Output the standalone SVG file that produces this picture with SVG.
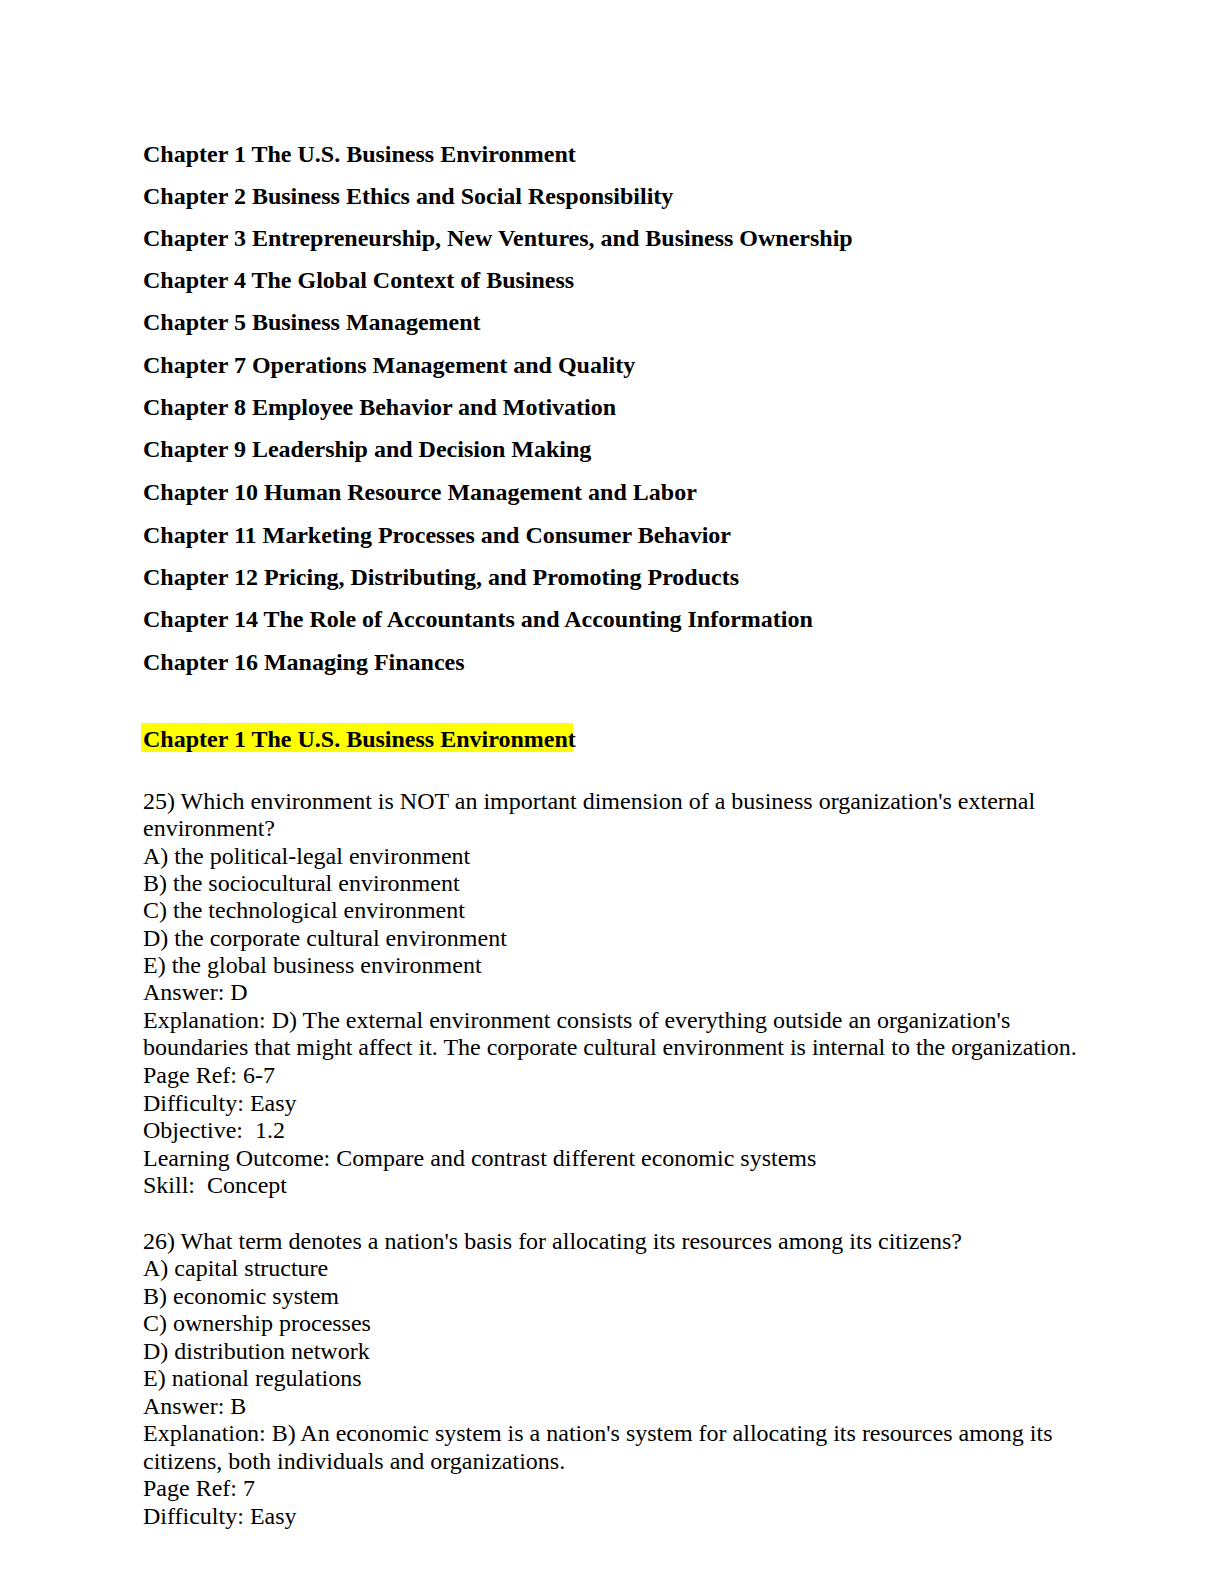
<svg xmlns="http://www.w3.org/2000/svg" width="1224" height="1584" viewBox="0 0 1224 1584">
<style>
text{font-family:"Liberation Serif","Times New Roman",serif;font-size:24px;fill:#000}
.b{font-weight:bold}
</style>
<rect width="1224" height="1584" fill="#fff"/>
<g id="toc" transform="translate(0,2)">
<text class="b" x="143" y="160">Chapter 1 The U.S. Business Environment</text>
<text class="b" x="143" y="202">Chapter 2 Business Ethics and Social Responsibility</text>
<text class="b" x="143" y="244">Chapter 3 Entrepreneurship, New Ventures, and Business Ownership</text>
<text class="b" x="143" y="286">Chapter 4 The Global Context of Business</text>
<text class="b" x="143" y="328">Chapter 5 Business Management</text>
<text class="b" x="143" y="371">Chapter 7 Operations Management and Quality</text>
<text class="b" x="143" y="413">Chapter 8 Employee Behavior and Motivation</text>
<text class="b" x="143" y="455">Chapter 9 Leadership and Decision Making</text>
<text class="b" x="143" y="498">Chapter 10 Human Resource Management and Labor</text>
<text class="b" x="143" y="541">Chapter 11 Marketing Processes and Consumer Behavior</text>
<text class="b" x="143" y="583">Chapter 12 Pricing, Distributing, and Promoting Products</text>
<text class="b" x="143" y="625">Chapter 14 The Role of Accountants and Accounting Information</text>
<text class="b" x="143" y="668">Chapter 16 Managing Finances</text>
</g>
<g id="heading">
<rect x="141" y="723" width="432" height="29" fill="#ffff00"/>
<text class="b" x="143" y="747">Chapter 1 The U.S. Business Environment</text>
</g>
<g id="q25" transform="translate(0,9)">
<text x="143" y="800">25) Which environment is NOT an important dimension of a business organization's external</text>
<text x="143" y="827">environment?</text>
<text x="143" y="855">A) the political-legal environment</text>
<text x="143" y="882">B) the sociocultural environment</text>
<text x="143" y="909">C) the technological environment</text>
<text x="143" y="937">D) the corporate cultural environment</text>
<text x="143" y="964">E) the global business environment</text>
<text x="143" y="991">Answer: D</text>
<text x="143" y="1019">Explanation: D) The external environment consists of everything outside an organization's</text>
<text x="143" y="1046">boundaries that might affect it. The corporate cultural environment is internal to the organization.</text>
<text x="143" y="1074">Page Ref: 6-7</text>
<text x="143" y="1102">Difficulty: Easy</text>
<text x="143" y="1129" xml:space="preserve">Objective:  1.2</text>
<text x="143" y="1157">Learning Outcome: Compare and contrast different economic systems</text>
<text x="143" y="1184" xml:space="preserve">Skill:  Concept</text>
</g>
<g id="q26" transform="translate(0,12)">
<text x="143" y="1237">26) What term denotes a nation's basis for allocating its resources among its citizens?</text>
<text x="143" y="1264">A) capital structure</text>
<text x="143" y="1292">B) economic system</text>
<text x="143" y="1319">C) ownership processes</text>
<text x="143" y="1347">D) distribution network</text>
<text x="143" y="1374">E) national regulations</text>
<text x="143" y="1402">Answer: B</text>
<text x="143" y="1429">Explanation: B) An economic system is a nation's system for allocating its resources among its</text>
<text x="143" y="1457">citizens, both individuals and organizations.</text>
<text x="143" y="1484">Page Ref: 7</text>
<text x="143" y="1512">Difficulty: Easy</text>
</g>
</svg>
